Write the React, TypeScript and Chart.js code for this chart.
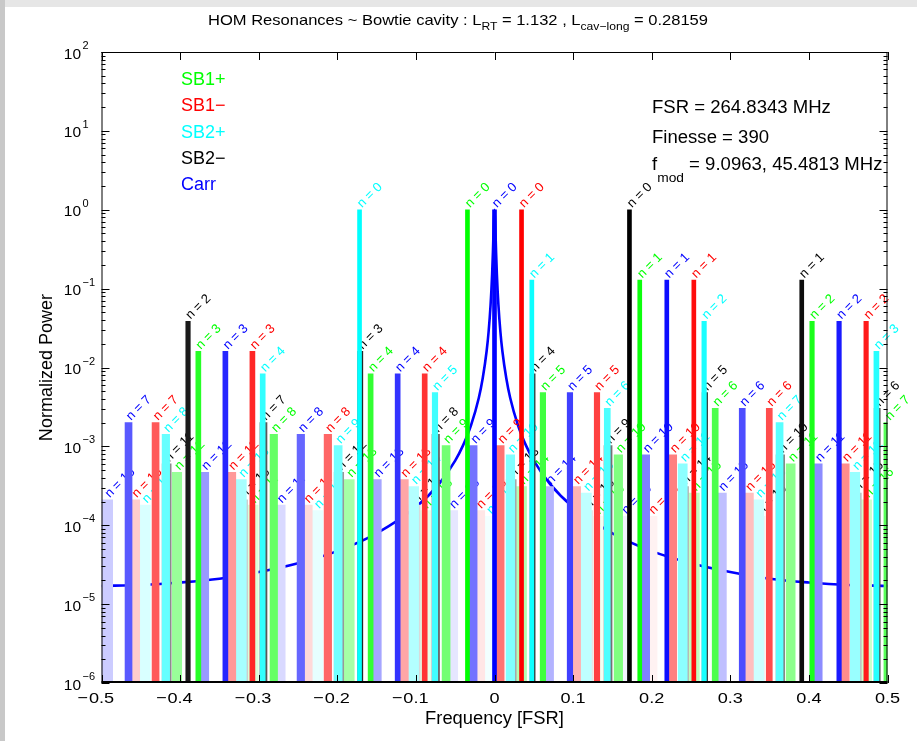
import React, { useEffect, useRef } from 'react';
import { Chart, registerables } from 'chart.js';

Chart.register(...registerables);

// ---------------- data ----------------
const MODE_NUMBERS = [0, 1, 2, 3, 4, 5, 6, 7, 8, 9, 10, 11, 12, 13, 14, 15, 16, 17, 18, 19];

// Normalized power of each mode order (same for every field)
const MODE_POWER = [
  1, 0.128, 0.0385, 0.016, 0.0083, 0.0048, 0.00303, 0.00201, 0.00142, 0.00102,
  0.00078, 0.0006, 0.00047, 0.00038, 0.00031, 0.000255, 0.00021, 0.00018, 0.000153, 0.00013,
];

// Resonance positions (FSR) of modes n = 0..19 for each field
const CARR_POS = [
  0.0, 0.2192, 0.4384, -0.3424, -0.1232, 0.096, 0.3152, -0.4656, -0.2464, -0.0272,
  0.192, 0.4112, -0.3696, -0.1504, 0.0688, 0.288, -0.4928, -0.2736, -0.0544, 0.1648,
];
const SB1P_POS = [
  -0.0344, 0.1848, 0.404, -0.3768, -0.1576, 0.0616, 0.2808, 0.4999, -0.2808, -0.0616,
  0.1576, 0.3768, -0.404, -0.1848, 0.0344, 0.2536, 0.4728, -0.308, -0.0888, 0.1304,
];
const SB1M_POS = [
  0.0344, 0.2536, 0.4728, -0.308, -0.0888, 0.1304, 0.3496, -0.4312, -0.212, 0.0072,
  0.2264, 0.4456, -0.3352, -0.116, 0.1032, 0.3224, -0.4584, -0.2392, -0.02, 0.1992,
];
const SB2P_POS = [
  -0.1717, 0.0475, 0.2667, 0.4859, -0.2949, -0.0757, 0.1435, 0.3627, -0.4181, -0.1989,
  0.0203, 0.2395, 0.4587, -0.3221, -0.1029, 0.1163, 0.3355, -0.4453, -0.2261, -0.0069,
];
const SB2M_POS = [
  0.1717, 0.3909, -0.3899, -0.1707, 0.0485, 0.2677, 0.4869, -0.2939, -0.0747, 0.1445,
  0.3637, -0.4171, -0.1979, 0.0213, 0.2405, 0.4597, -0.3211, -0.1019, 0.1173, 0.3365,
];

// Carrier cavity transmission curve
const CARR_LINE_X = [
  -0.5, -0.45, -0.4, -0.35, -0.3, -0.25, -0.2, -0.15, -0.1, -0.07, -0.05, -0.04, -0.03, -0.02,
  -0.015, -0.01, -0.0075, -0.005, -0.003, -0.002, -0.001, 0, 0.001, 0.002, 0.003, 0.005, 0.0075,
  0.01, 0.015, 0.02, 0.03, 0.04, 0.05, 0.07, 0.1, 0.15, 0.2, 0.25, 0.3, 0.35, 0.4, 0.45, 0.5,
];
const CARR_LINE_Y = [
  1.7e-5, 1.75e-5, 1.88e-5, 2.1e-5, 2.55e-5, 3.3e-5, 4.7e-5, 7.9e-5, 1.7e-4, 3.4e-4, 6.6e-4, 1.03e-3,
  1.83e-3, 4.1e-3, 7.3e-3, 0.0162, 0.0284, 0.0617, 0.154, 0.291, 0.622, 1, 0.622, 0.291, 0.154,
  0.0617, 0.0284, 0.0162, 7.3e-3, 4.1e-3, 1.83e-3, 1.03e-3, 6.6e-4, 3.4e-4, 1.7e-4, 7.9e-5, 4.7e-5,
  3.3e-5, 2.55e-5, 2.1e-5, 1.88e-5, 1.75e-5, 1.7e-5,
];

const X_TICKS = [-0.5, -0.4, -0.3, -0.2, -0.1, 0, 0.1, 0.2, 0.3, 0.4, 0.5];
const Y_EXPONENTS = [-6, -5, -4, -3, -2, -1, 0, 1, 2];

const LEGEND_NAMES = ['SB1+', 'SB1−', 'SB2+', 'SB2−', 'Carr'];
const TITLE_PARTS = [
  { t: 'HOM Resonances ~ Bowtie cavity : L', sub: false },
  { t: 'RT', sub: true },
  { t: ' = 1.132 , L', sub: false },
  { t: 'cav−long', sub: true },
  { t: ' = 0.28159', sub: false },
];
const INFO_FSR = 'FSR = 264.8343 MHz';
const INFO_FINESSE = 'Finesse = 390';
const INFO_FMOD = ' = 9.0963, 45.4813 MHz';

// ---------------- styles ----------------
const FONT = '"Liberation Sans", Arial, Helvetica, sans-serif';
const SERIES_RGB: Record<string, number[]> = {
  Carr: [0, 0, 255],
  'SB1+': [0, 255, 0],
  'SB1−': [255, 0, 0],
  'SB2+': [0, 255, 255],
  'SB2−': [0, 0, 0],
};
const BAR_WIDTHS = [4, 4, 4.5, 5, 5, 5.5, 6, 7, 7.5, 8, 8.5, 9, 9.5, 10, 10, 11, 11, 11.5, 12, 12];

const FIELDS = [
  { name: 'Carr', pos: CARR_POS },
  { name: 'SB1+', pos: SB1P_POS },
  { name: 'SB1−', pos: SB1M_POS },
  { name: 'SB2+', pos: SB2P_POS },
  { name: 'SB2−', pos: SB2M_POS },
];

function faded(rgb: number[], n: number) {
  const a = 1 - n / 20;
  const c = rgb.map((v) => Math.round(255 - (255 - v) * a));
  return `rgb(${c[0]},${c[1]},${c[2]})`;
}
function full(rgb: number[]) {
  return `rgb(${rgb[0]},${rgb[1]},${rgb[2]})`;
}

function drawText(
  ctx: CanvasRenderingContext2D,
  s: string,
  x: number,
  y: number,
  size: number,
  color: string,
  align: 'left' | 'center' | 'right' = 'left',
  sx = 1
) {
  ctx.save();
  ctx.font = `${size}px ${FONT}`;
  ctx.fillStyle = color;
  ctx.textBaseline = 'alphabetic';
  ctx.textAlign = 'left';
  const w = ctx.measureText(s).width * sx;
  const x0 = align === 'center' ? x - w / 2 : align === 'right' ? x - w : x;
  ctx.translate(x0, y);
  ctx.scale(sx, 1);
  ctx.fillText(s, 0, 0);
  ctx.restore();
  return w;
}

const backgroundPlugin = {
  id: 'figBackground',
  beforeDraw(chart: any) {
    const ctx = chart.ctx as CanvasRenderingContext2D;
    ctx.save();
    ctx.fillStyle = '#ffffff';
    ctx.fillRect(0, 0, chart.width, chart.height);
    ctx.fillStyle = '#e6e6e6';
    ctx.fillRect(0, 0, chart.width, 7);
    ctx.fillStyle = '#c8c8c8';
    ctx.fillRect(0, 0, 5, chart.height);
    ctx.restore();
  },
};

const modeLabelPlugin = {
  id: 'modeLabels',
  afterDatasetDraw(chart: any, args: any) {
    const meta = args.meta;
    if (meta.type !== 'bar') return;
    const n = MODE_NUMBERS[args.index];
    const ctx = chart.ctx as CanvasRenderingContext2D;
    meta.data.forEach((el: any, i: number) => {
      const rgb = SERIES_RGB[FIELDS[i].name];
      ctx.save();
      ctx.translate(el.x, el.y - 4);
      ctx.rotate(-Math.PI / 4);
      ctx.font = `13px ${FONT}`;
      ctx.fillStyle = full(rgb);
      ctx.textBaseline = 'middle';
      ctx.textAlign = 'left';
      ctx.fillText(`n = ${n}`, 0, 0);
      ctx.restore();
    });
  },
};

const axesPlugin = {
  id: 'matlabAxes',
  afterDraw(chart: any) {
    const ctx = chart.ctx as CanvasRenderingContext2D;
    const { left, right, top, bottom } = chart.chartArea;
    const xs = chart.scales.x;
    const ys = chart.scales.y;
    ctx.save();
    ctx.strokeStyle = '#000';
    ctx.lineWidth = 1;
    ctx.beginPath();
    ctx.moveTo(left, top + 0.5);
    ctx.lineTo(right, top + 0.5);
    ctx.moveTo(left + 0.5, top);
    ctx.lineTo(left + 0.5, bottom);
    ctx.moveTo(right - 0.5, top);
    ctx.lineTo(right - 0.5, bottom);
    X_TICKS.forEach((v) => {
      const px = Math.round(xs.getPixelForValue(v)) + 0.5;
      ctx.moveTo(px, bottom);
      ctx.lineTo(px, bottom - 8);
      ctx.moveTo(px, top);
      ctx.lineTo(px, top + 8);
    });
    Y_EXPONENTS.forEach((e) => {
      const py = Math.round(ys.getPixelForValue(Math.pow(10, e))) + 0.5;
      ctx.moveTo(left, py);
      ctx.lineTo(left + 8, py);
      ctx.moveTo(right, py);
      ctx.lineTo(right - 8, py);
      if (e < 2) {
        for (let m = 2; m <= 9; m++) {
          const pm = Math.round(ys.getPixelForValue(m * Math.pow(10, e))) + 0.5;
          ctx.moveTo(left, pm);
          ctx.lineTo(left + 4, pm);
          ctx.moveTo(right, pm);
          ctx.lineTo(right - 4, pm);
        }
      }
    });
    ctx.stroke();
    ctx.lineWidth = 2;
    ctx.beginPath();
    ctx.moveTo(left, bottom - 1);
    ctx.lineTo(right, bottom - 1);
    ctx.stroke();
    ctx.restore();

    X_TICKS.forEach((v) => {
      const px = xs.getPixelForValue(v);
      const body = v === 0 ? '0' : Math.abs(v).toFixed(1);
      const w = drawText(ctx, body, px, 703, 15.5, '#000', 'center', 1.17);
      if (v < 0) drawText(ctx, '−', px - w / 2 - 1, 703, 15.5, '#000', 'right', 1.17);
    });
    Y_EXPONENTS.forEach((e) => {
      const py = ys.getPixelForValue(Math.pow(10, e));
      drawText(ctx, '10', 81, py + 6.5, 15.5, '#000', 'right');
      drawText(ctx, e < 0 ? '−' + Math.abs(e) : String(e), 82.5, py - 3, 11, '#000', 'left');
    });

    drawText(ctx, 'Frequency [FSR]', (left + right) / 2, 724, 17.5, '#000', 'center', 1.05);
    ctx.save();
    ctx.translate(52, (top + bottom) / 2);
    ctx.rotate(-Math.PI / 2);
    drawText(ctx, 'Normalized Power', 0, 0, 17.5, '#000', 'center', 1.03);
    ctx.restore();

    ctx.save();
    let total = 0;
    TITLE_PARTS.forEach((p) => {
      ctx.font = `${p.sub ? 11 : 15}px ${FONT}`;
      total += ctx.measureText(p.t).width;
    });
    ctx.restore();
    const tsx = 500 / total;
    let tx = 208;
    TITLE_PARTS.forEach((p) => {
      tx += drawText(ctx, p.t, tx, p.sub ? 30 : 25, p.sub ? 11 : 15, '#000', 'left', tsx);
    });

    LEGEND_NAMES.forEach((name, i) => {
      drawText(ctx, name, 181, 85 + i * 26.3, 18, full(SERIES_RGB[name]), 'left');
    });

    drawText(ctx, INFO_FSR, 652, 113, 17.5, '#000', 'left', 1.06);
    drawText(ctx, INFO_FINESSE, 652, 142.5, 17.5, '#000', 'left', 1.06);
    const fw = drawText(ctx, 'f', 652, 170, 17.5, '#000', 'left', 1.06);
    const mw = drawText(ctx, 'mod', 652 + fw, 181.5, 13, '#000', 'left', 1.06);
    drawText(ctx, INFO_FMOD, 652 + fw + mw, 170, 17.5, '#000', 'left', 1.06);
  },
};

export default function App() {
  const ref = useRef<HTMLCanvasElement>(null);

  useEffect(() => {
    const canvas = ref.current;
    if (!canvas) return;

    const barSets = MODE_NUMBERS.map((n) => ({
      type: 'bar' as const,
      label: `n = ${n}`,
      order: n,
      grouped: false,
      barThickness: BAR_WIDTHS[n],
      borderWidth: 0,
      backgroundColor: FIELDS.map((f) => faded(SERIES_RGB[f.name], n)),
      data: FIELDS.map((f) => ({ x: f.pos[n], y: [1e-6, MODE_POWER[n]] })),
    }));

    const lineSet = {
      type: 'line' as const,
      label: 'Carr',
      order: 100,
      borderColor: 'rgb(0,0,255)',
      borderWidth: 2.6,
      pointRadius: 0,
      cubicInterpolationMode: 'monotone' as const,
      data: CARR_LINE_X.map((x, i) => ({ x, y: CARR_LINE_Y[i] })),
    };

    const chart = new Chart(canvas, {
      type: 'bar',
      data: { datasets: [...barSets, lineSet] as any },
      options: {
        responsive: false,
        animation: false,
        devicePixelRatio: 1,
        events: [],
        layout: { padding: { left: 101.5, right: 29.5, top: 52, bottom: 58 } },
        scales: {
          x: { type: 'linear', min: -0.5, max: 0.5, offset: false, display: false },
          y: { type: 'logarithmic', min: 1e-6, max: 100, display: false },
        },
        plugins: {
          legend: { display: false },
          tooltip: { enabled: false },
          title: { display: false },
        },
      } as any,
      plugins: [backgroundPlugin, modeLabelPlugin, axesPlugin],
    });

    return () => chart.destroy();
  }, []);

  return (
    <div style={{ position: 'fixed', left: 0, top: 0, width: 917, height: 741, background: '#fff' }}>
      <canvas ref={ref} width={917} height={741} style={{ display: 'block', width: 917, height: 741 }} />
    </div>
  );
}
